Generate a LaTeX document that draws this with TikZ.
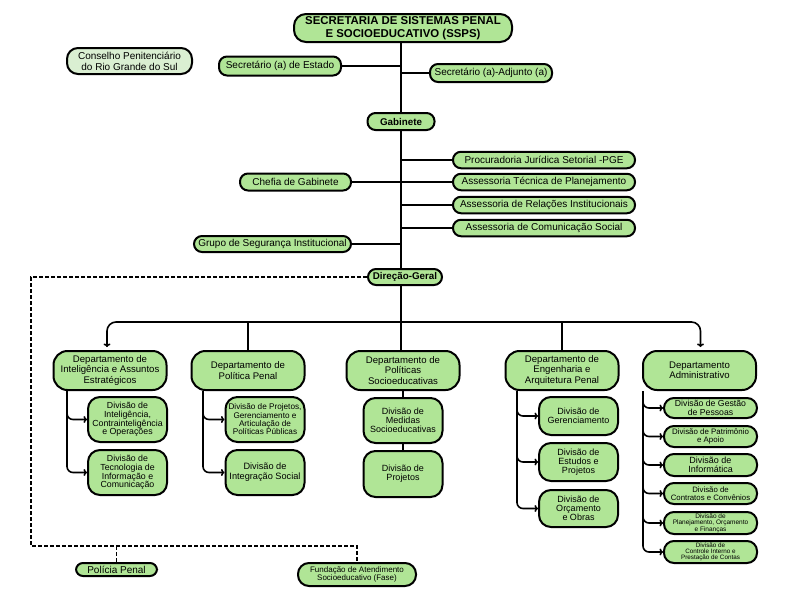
\documentclass[tikz,border=0pt]{standalone}
\usepackage{fontspec}
\setmainfont{Liberation Sans}
\usetikzlibrary{positioning,arrows.meta}
\definecolor{ssgreen}{RGB}{176,229,150}
\definecolor{sslight}{RGB}{218,239,210}

\begin{document}
\begin{tikzpicture}[x=1pt,y=-1pt,node distance=6pt,>={To[length=3.5pt,width=7pt]},
  box/.style={draw,line width=2pt,fill=ssgreen,align=center,inner sep=1pt,
    rounded corners=8pt,font=\fontsize{10}{11}\selectfont},
  dept/.style={box,minimum width=113pt,minimum height=39pt,rounded corners=14pt,
    font=\fontsize{9.6}{10.2}\selectfont},
  divn/.style={box,minimum width=79pt,minimum height=45pt,rounded corners=12pt,
    font=\fontsize{9}{9}\selectfont},
  adm/.style={box,minimum width=93pt,minimum height=21pt,rounded corners=10pt},
  asse/.style={box,minimum width=182pt,minimum height=16.5pt},
  link/.style={line width=1.6pt},
  ext/.style={line width=1.4pt,dash pattern=on 4pt off 2pt}]
  \fill[white] (0,0) rectangle (800,600);

  \node[box,minimum width=218pt,minimum height=28pt,rounded corners=12pt,
    font=\fontsize{11.4}{12.5}\selectfont\bfseries] (SSPS) at (403,28)
    {SECRETARIA DE SISTEMAS PENAL\\E SOCIOEDUCATIVO (SSPS)};
  \node[box,fill=sslight,minimum width=125pt,minimum height=26pt,rounded corners=11pt] (CPRS) at (129.5,61)
    {Conselho Penitenciário\\do Rio Grande do Sul};
  \node[box,minimum width=122pt,minimum height=19pt] (SecEst) at (280,66) {Secretário (a) de Estado};
  \node[box,minimum width=122pt,minimum height=18pt] (SecAdj) at (491,73) {Secretário (a)-Adjunto (a)};
  \node[box,minimum width=67pt,minimum height=17pt,font=\fontsize{9.8}{11}\selectfont\bfseries] (Gab) at (401,121.5) {Gabinete};

  \node[asse] (PGE) at (544,160) {Procuradoria Jurídica Setorial -PGE};
  \node[asse] (AssTec) at (544,182) {Assessoria Técnica de Planejamento};
  \node[asse] (AssRel) at (544,205) {Assessoria de Relações Institucionais};
  \node[asse] (AssCom) at (544,228) {Assessoria de Comunicação Social};
  \node[box,minimum width=111pt,minimum height=17pt] (Chefia) at (295.5,182) {Chefia de Gabinete};
  \node[box,minimum width=157pt,minimum height=16pt] (GSI) at (272.5,244) {Grupo de Segurança Institucional};
  \node[box,minimum width=74pt,minimum height=16pt,font=\fontsize{9.8}{11}\selectfont\bfseries] (DG) at (405,277) {Direção-Geral};

  \coordinate (hub) at (401,322);

  \node[dept] (DInt) at (110,370.5) {Departamento de\\Inteligência e Assuntos\\Estratégicos};
  \node[dept] (DPol) at (248,370.5) {Departamento de\\Política Penal};
  \node[dept] (DSoc) at (403,370.5) {Departamento de\\Políticas\\Socioeducativas};
  \node[dept] (DEng) at (562,370.5) {Departamento de\\Engenharia e\\Arquitetura Penal};
  \node[dept] (DAdm) at (699.5,370.5) {Departamento\\Administrativo};

  \node[divn,font=\fontsize{8.8}{8.7}\selectfont] (dInt1) at (127.5,419.5)
    {Divisão de\\Inteligência,\\Contrainteligência\\e Operações};
  \node[divn,font=\fontsize{8.8}{8.7}\selectfont] (dInt2) [below=of dInt1]
    {Divisão de\\Tecnologia de\\Informação e\\Comunicação};
  \node[divn,font=\fontsize{8.2}{8.3}\selectfont] (dPol1) at (265,419.5)
    {Divisão de Projetos,\\Gerenciamento e\\Articulação de\\Políticas Públicas};
  \node[divn,font=\fontsize{9.2}{10}\selectfont] (dPol2) [below=of dPol1] {Divisão de\\Integração Social};
  \node[divn] (dSoc1) [below=of DSoc] {Divisão de\\Medidas\\Socioeducativas};
  \node[divn,minimum height=46pt] (dSoc2) [below=of dSoc1] {Divisão de\\Projetos};
  \node[divn,minimum height=38pt] (dEng1) at (578.5,416) {Divisão de\\Gerenciamento};
  \node[divn,minimum height=38pt] (dEng2) [below=of dEng1] {Divisão de\\Estudos e\\Projetos};
  \node[divn,minimum height=37pt] (dEng3) [below=7pt of dEng2] {Divisão de\\Orçamento\\e Obras};

  \node[adm,minimum height=20pt,font=\fontsize{8.7}{9}\selectfont] (aGP) at (710.5,408) {Divisão de Gestão\\de Pessoas};
  \node[adm,font=\fontsize{7.9}{8.4}\selectfont] (aPA) [below=of aGP] {Divisão de Patrimônio\\e Apoio};
  \node[adm,minimum height=22pt,font=\fontsize{9}{9.5}\selectfont] (aInf) [below=5pt of aPA] {Divisão de\\Informática};
  \node[adm,font=\fontsize{7.8}{8.3}\selectfont] (aCC) [below=5pt of aInf] {Divisão de\\Contratos e Convênios};
  \node[adm,minimum height=22pt,inner sep=0pt,font=\fontsize{6.5}{6.4}\selectfont] (aPOF) [below=of aCC] {Divisão de\\Planejamento, Orçamento\\e Finanças};
  \node[adm,minimum height=22pt,inner sep=0pt,font=\fontsize{6.3}{6.3}\selectfont] (aCI) [below=5pt of aPOF] {Divisão de\\Controle Interno e\\Prestação de Contas};

  \node[box,minimum width=81pt,minimum height=13pt,rounded corners=7pt] (PP) at (116.5,569.5) {Polícia Penal};
  \node[box,minimum width=118pt,minimum height=23pt,rounded corners=11pt,font=\fontsize{8}{8.6}\selectfont] (Fase) at (357,574.5)
    {Fundação de Atendimento\\Socioeducativo (Fase)};

  \draw[link] (SSPS.south -| hub) -- (Gab.north -| hub);
  \draw[link] (Gab.south -| hub) -- (DG.north -| hub);
  \draw[link] (DG.south -| hub) -- (hub);
  \draw[link] (SecEst.east) -- (SecEst.east -| hub);
  \draw[link] (SecAdj.west -| hub) -- (SecAdj.west);
  \draw[link] (PGE.west -| hub) -- (PGE.west);
  \draw[link] (Chefia.east) -- (AssTec.west);
  \draw[link] (AssRel.west -| hub) -- (AssRel.west);
  \draw[link] (AssCom.west -| hub) -- (AssCom.west);
  \draw[link] (GSI.east) -- (GSI.east -| hub);

  \coordinate (dL) at (31,546);
  \draw[ext] (DG.west) -| (dL) -| (Fase.north);
  \draw[ext] (dL -| PP.north) -- (PP.north);

  \draw[link,->,shorten >=3pt,rounded corners=9pt] (hub) -| ([xshift=-3pt]DInt.north);
  \draw[link,->,shorten >=3pt,rounded corners=9pt] (hub) -| ([xshift=1pt]DAdm.north);
  \draw[link] (hub -| DPol.north) -- (DPol.north);
  \draw[link] (hub) -- (hub |- DSoc.north);
  \draw[link] (hub -| DEng.north) -- (DEng.north);

  \draw[link] (DSoc.south) -- (dSoc1.north);
  \draw[link] (dSoc1.south) -- (dSoc2.north);

  \coordinate (sInt) at (67,391);
  \coordinate (sPol) at (203,391);
  \coordinate (sEng) at (517,391);
  \coordinate (sAdm) at (643,391);
  \foreach \d in {dInt1,dInt2}
    \draw[link,->,rounded corners=6pt] (sInt) |- (\d.west);
  \foreach \d in {dPol1,dPol2}
    \draw[link,->,rounded corners=6pt] (sPol) |- (\d.west);
  \foreach \d in {dEng1,dEng2,dEng3}
    \draw[link,->,rounded corners=6pt] (sEng) |- (\d.west);
  \foreach \d in {aGP,aPA,aInf,aCC,aPOF,aCI}
    \draw[link,->,rounded corners=6pt] (sAdm) |- (\d.west);
\end{tikzpicture}
\end{document}
